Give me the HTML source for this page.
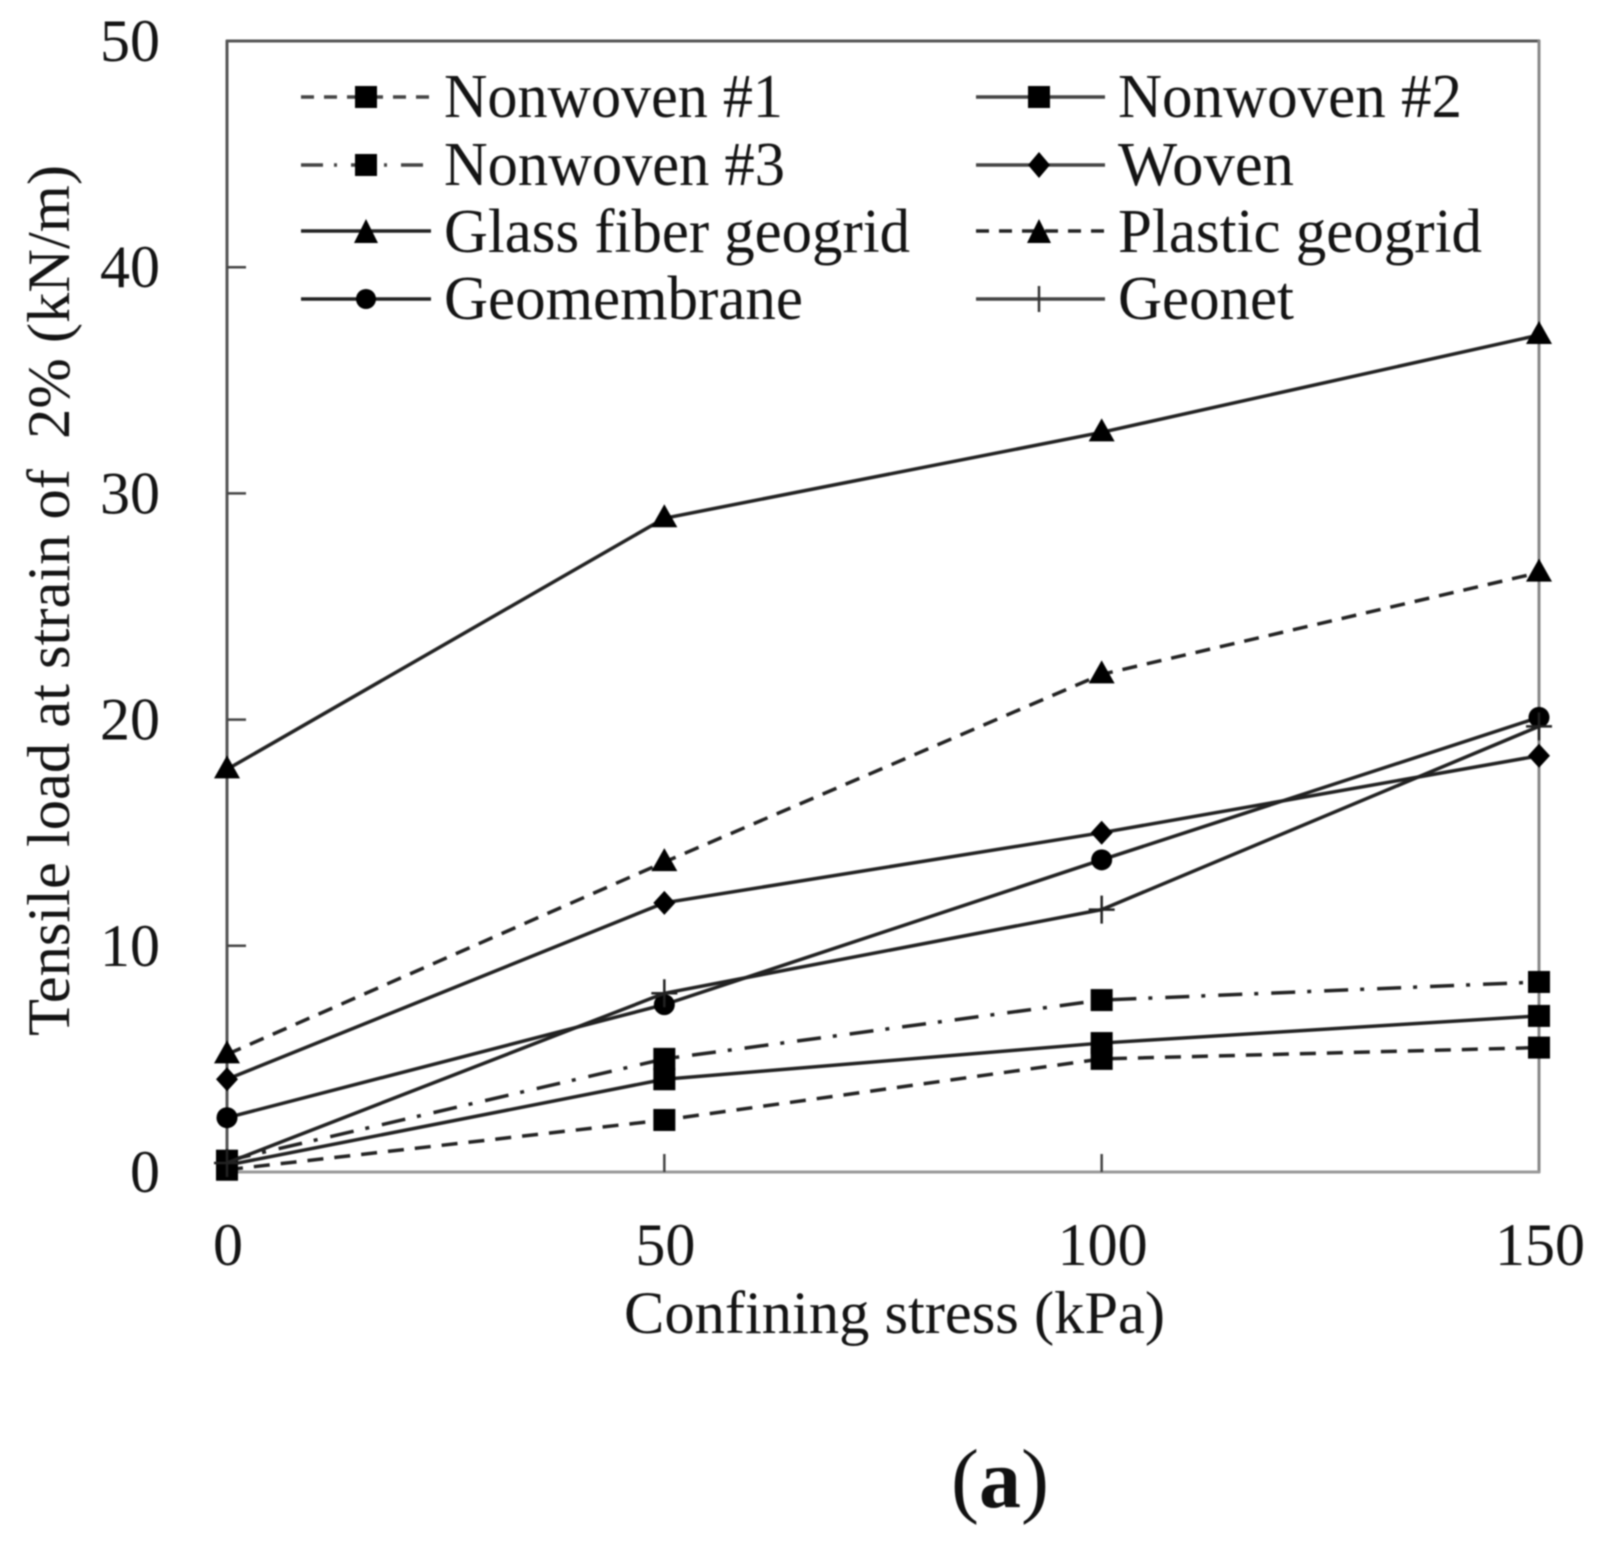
<!DOCTYPE html>
<html lang="en">
<head>
<meta charset="utf-8">
<title>Tensile load at strain of 2% vs confining stress</title>
<style>
html,body{margin:0;padding:0;background:#fff;}
body{width:1598px;height:1541px;overflow:hidden;}
svg{display:block;filter:blur(0.7px);}
text{font-family:"Liberation Serif","DejaVu Serif",serif;font-size:60px;fill:#141414;white-space:pre;}
.leg{font-size:62px;}
</style>
</head>
<body>
<svg id="chart" xmlns="http://www.w3.org/2000/svg" width="1598" height="1541" viewBox="0 0 1598 1541">
  <rect x="0" y="0" width="1598" height="1541" fill="#fff"/>
  <g id="frame">
    <line x1="226" y1="41" x2="1540" y2="41" stroke="#555" stroke-width="3"/>
    <line x1="227" y1="40" x2="227" y2="1173" stroke="#555" stroke-width="3"/>
    <line x1="1539" y1="40" x2="1539" y2="1173" stroke="#888" stroke-width="3"/>
    <line x1="226" y1="1172" x2="1540" y2="1172" stroke="#999" stroke-width="3"/>
  </g>
  <g id="ticks"></g>
  <g id="series"></g>

  <g stroke-linecap="butt">
    <g>
      <line x1="301" y1="97" x2="431" y2="97" stroke="#444" stroke-width="3.5" stroke-dasharray="13 10"/>
      <rect x="355" y="86" width="22" height="22" fill="#000"/>
      <text class="leg" x="444" y="117" textLength="339" lengthAdjust="spacingAndGlyphs">Nonwoven #1</text>
    </g>
    <g>
      <line x1="976" y1="97" x2="1105" y2="97" stroke="#444" stroke-width="3.5"/>
      <rect x="1028" y="86" width="22" height="22" fill="#000"/>
      <text class="leg" x="1118" y="117" textLength="344" lengthAdjust="spacingAndGlyphs">Nonwoven #2</text>
    </g>
    <g>
      <line x1="301" y1="165" x2="431" y2="165" stroke="#444" stroke-width="3.5" stroke-dasharray="22 11 3 14"/>
      <rect x="355" y="154" width="22" height="22" fill="#000"/>
      <text class="leg" x="444" y="185" textLength="341" lengthAdjust="spacingAndGlyphs">Nonwoven #3</text>
    </g>
    <g>
      <line x1="976" y1="165" x2="1105" y2="165" stroke="#444" stroke-width="3.5"/>
      <polygon points="1039,152 1050,165 1039,178 1028,165" fill="#000"/>
      <text class="leg" x="1118" y="185" textLength="176" lengthAdjust="spacingAndGlyphs">Woven</text>
    </g>
    <g>
      <line x1="301" y1="231" x2="431" y2="231" stroke="#222" stroke-width="3.5"/>
      <polygon points="366,219 378,243 354,243" fill="#000"/>
      <text class="leg" x="444" y="252" textLength="466" lengthAdjust="spacingAndGlyphs">Glass fiber geogrid</text>
    </g>
    <g>
      <line x1="976" y1="231" x2="1105" y2="231" stroke="#222" stroke-width="3.5" stroke-dasharray="13 10"/>
      <polygon points="1039,219 1051,243 1027,243" fill="#000"/>
      <text class="leg" x="1118" y="252" textLength="364" lengthAdjust="spacingAndGlyphs">Plastic geogrid</text>
    </g>
    <g>
      <line x1="301" y1="299" x2="431" y2="299" stroke="#222" stroke-width="3.5"/>
      <circle cx="366" cy="299" r="10" fill="#000"/>
      <text class="leg" x="444" y="319" textLength="359" lengthAdjust="spacingAndGlyphs">Geomembrane</text>
    </g>
    <g>
      <line x1="976" y1="299" x2="1105" y2="299" stroke="#444" stroke-width="3.5"/>
      <line x1="1039" y1="286" x2="1039" y2="312" stroke="#333" stroke-width="2.5"/>
      <text class="leg" x="1118" y="319" textLength="176" lengthAdjust="spacingAndGlyphs">Geonet</text>
    </g>
  </g>

  <text x="624" y="1333" textLength="541" lengthAdjust="spacingAndGlyphs">Confining stress (kPa)</text>
  <text transform="translate(69,1036) rotate(-90)" x="0" y="0" textLength="871" lengthAdjust="spacingAndGlyphs">Tensile load at strain of  2% (kN/m)</text>
  <text x="951" y="1507" style="font-size:84px;fill:#111"><tspan>(</tspan><tspan font-weight="bold">a</tspan><tspan>)</tspan></text>
</svg>

<script>
var xCategories = [0, 50, 100, 150];
var yTickLabels = [0, 10, 20, 30, 40, 50];
var nonwoven1 = [0.1, 2.3, 5.0, 5.5];
var nonwoven2 = [0.3, 4.1, 5.7, 6.9];
var nonwoven3 = [0.5, 5.0, 7.6, 8.4];
var woven = [4.1, 11.9, 15.0, 18.4];
var glassFiberGeogrid = [17.8, 28.9, 32.7, 37.0];
var plasticGeogrid = [5.2, 13.7, 22.0, 26.5];
var geomembrane = [2.4, 7.4, 13.8, 20.1];
var geonet = [0.4, 7.9, 11.6, 19.7];

var NS = 'http://www.w3.org/2000/svg';
var PLOT = {left: 227, right: 1539, top: 41, bottom: 1172, xMax: 150, yMax: 50};

function xScale(v) {
  return PLOT.left + (v / PLOT.xMax) * (PLOT.right - PLOT.left);
}
function yScale(v) {
  return PLOT.bottom - (v / PLOT.yMax) * (PLOT.bottom - PLOT.top);
}
function make(tag, attrs, parent) {
  var el = document.createElementNS(NS, tag);
  for (var k in attrs) { el.setAttribute(k, attrs[k]); }
  parent.appendChild(el);
  return el;
}

var tickLayer = document.getElementById('ticks');
var seriesLayer = document.getElementById('series');

yTickLabels.forEach(function (v) {
  var y = yScale(v);
  if (v > 0 && v < PLOT.yMax) {
    var t = make('line', {x1: PLOT.left, y1: y, x2: PLOT.left + 19, y2: y, stroke: '#444', 'stroke-width': 2.5}, tickLayer);
    
    
  }
  var lab = make('text', {x: 160, y: y + 20, 'text-anchor': 'end'}, tickLayer);
  lab.textContent = String(v);
  
  
});

xCategories.forEach(function (v) {
  var x = xScale(v);
  if (v > 0 && v < PLOT.xMax) {
    var t = make('line', {x1: x, y1: PLOT.bottom, x2: x, y2: PLOT.bottom - 18, stroke: '#444', 'stroke-width': 2.5}, tickLayer);
    
    
  }
  var lab = make('text', {x: x + 1, y: 1265, 'text-anchor': 'middle'}, tickLayer);
  lab.textContent = String(v);
  
  
});

function drawMarker(kind, px, py, parent) {
  var m;
  if (kind === 'square') {
    m = make('rect', {x: px - 11, y: py - 11, width: 22, height: 22, fill: '#000'}, parent);
  } else if (kind === 'diamond') {
    m = make('polygon', {points: [px, py - 12, px + 11, py, px, py + 12, px - 11, py].join(' '), fill: '#000'}, parent);
  } else if (kind === 'triangle') {
    m = make('polygon', {points: [px, py - 14, px + 13, py + 9, px - 13, py + 9].join(' '), fill: '#000'}, parent);
  } else if (kind === 'circle') {
    m = make('circle', {cx: px, cy: py, r: 10.5, fill: '#000'}, parent);
  } else {
    m = make('path', {d: 'M' + (px - 13) + ' ' + py + 'H' + (px + 13) + 'M' + px + ' ' + (py - 14) + 'V' + (py + 14), stroke: '#222', 'stroke-width': 2.5, fill: 'none'}, parent);
  }
  
  
}

function drawSeries(name, values, kind, dash) {
  var g = make('g', {}, seriesLayer);
  
  
  var pts = values.map(function (v, i) {
    return xScale(xCategories[i]) + ',' + yScale(v);
  }).join(' ');
  var attrs = {points: pts, fill: 'none', stroke: '#222', 'stroke-width': 3.5, 'stroke-linejoin': 'round'};
  if (dash) { attrs['stroke-dasharray'] = dash; }
  var line = make('polyline', attrs, g);
  
  
  values.forEach(function (v, i) {
    drawMarker(kind, xScale(xCategories[i]), yScale(v), g);
  });
}

drawSeries('nonwoven-1', nonwoven1, 'square', '16 11');
drawSeries('nonwoven-2', nonwoven2, 'square', '');
drawSeries('nonwoven-3', nonwoven3, 'square', '24 12 4 13');
drawSeries('woven', woven, 'diamond', '');
drawSeries('glass-fiber-geogrid', glassFiberGeogrid, 'triangle', '');
drawSeries('plastic-geogrid', plasticGeogrid, 'triangle', '15 10');
drawSeries('geomembrane', geomembrane, 'circle', '');
drawSeries('geonet', geonet, 'plus', '');
</script>
</body>
</html>
